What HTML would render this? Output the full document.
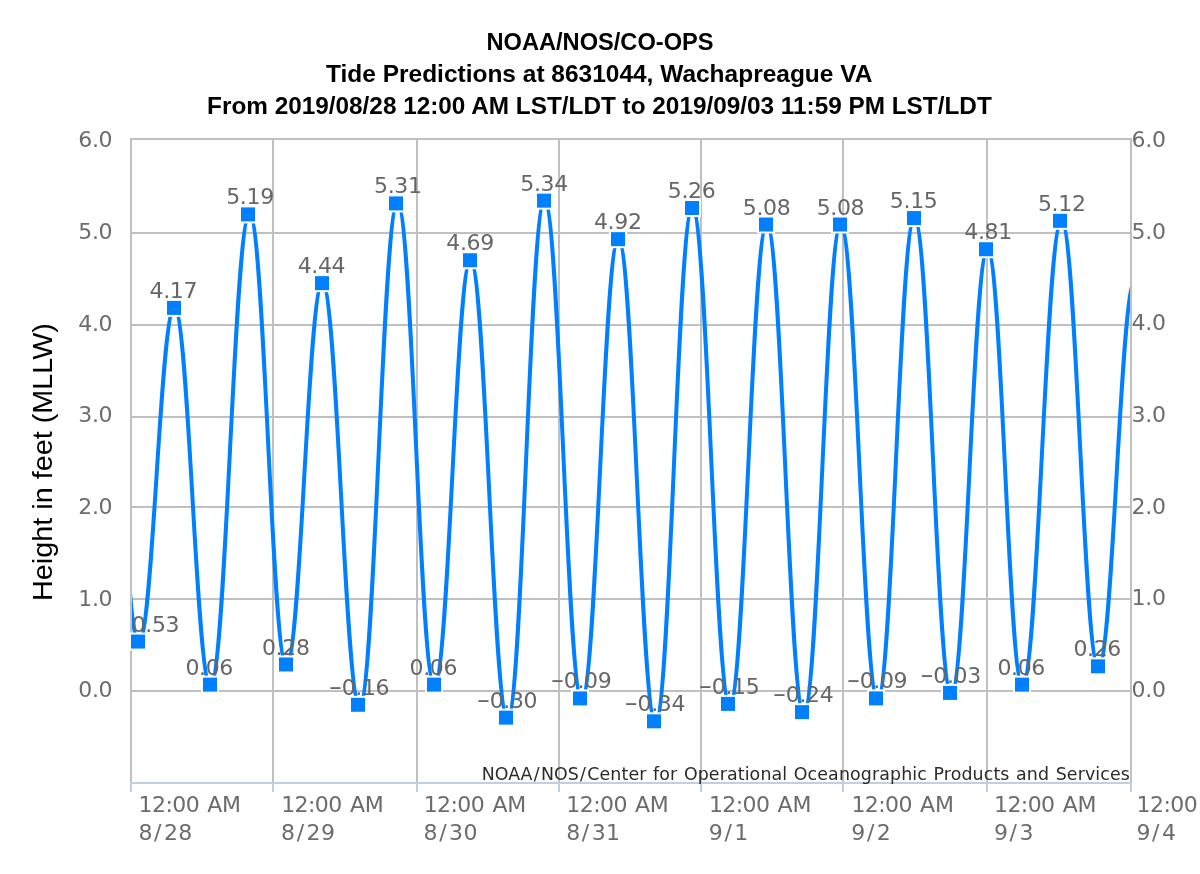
<!DOCTYPE html>
<html lang="en"><head><meta charset="utf-8"><title>Tide Predictions at 8631044, Wachapreague VA</title>
<style>html,body{margin:0;padding:0;background:#fff}body{width:1200px;height:874px;overflow:hidden}svg{display:block;will-change:transform}
.ax{font-family:"DejaVu Sans","Liberation Sans",sans-serif;font-size:22px;fill:#6c6c6c}.dl{font-family:"DejaVu Sans","Liberation Sans",sans-serif;font-size:22px;fill:#666}
.ti{font-family:"Liberation Sans",Arial,sans-serif;font-weight:bold;font-size:24px;fill:#000}
.yt{font-family:"Liberation Sans",Arial,sans-serif;font-size:28px;fill:#000}
.cr{font-family:"DejaVu Sans","Liberation Sans",sans-serif;font-size:17.4px;fill:#2a2a2a}
</style></head><body>
<svg width="1200" height="874" viewBox="0 0 1200 874">
<rect width="1200" height="874" fill="#fff"/>
<defs><clipPath id="pc"><rect x="132" y="139" width="998" height="643"/></clipPath></defs>
<g stroke="#c0c0c0" stroke-width="2" fill="none"><path d="M273 139V782"/><path d="M417 139V782"/><path d="M559 139V782"/><path d="M701 139V782"/><path d="M843 139V782"/><path d="M987 139V782"/><path d="M131 233H1131"/><path d="M131 325H1131"/><path d="M131 417H1131"/><path d="M131 507H1131"/><path d="M131 599H1131"/><path d="M131 691H1131"/></g>
<path d="M131 783V139H1131V783" fill="none" stroke="#c0c0c0" stroke-width="2"/>
<g stroke="#c0d0e0" stroke-width="2" fill="none"><path d="M130 783H1132"/><path d="M131 783V792"/><path d="M273 783V792"/><path d="M417 783V792"/><path d="M559 783V792"/><path d="M701 783V792"/><path d="M843 783V792"/><path d="M987 783V792"/><path d="M1131 783V792"/></g>
<g class="ti" text-anchor="middle"><text transform="translate(600 49.5) scale(0.985 1)">NOAA/NOS/CO-OPS</text><text transform="translate(599.2 81.5) scale(1.02 1)">Tide Predictions at 8631044, Wachapreague VA</text><text transform="translate(599.4 113.5) scale(1.0145 1)">From 2019/08/28 12:00 AM LST/LDT to 2019/09/03 11:59 PM LST/LDT</text></g>
<text class="yt" text-anchor="middle" transform="translate(52 462) rotate(-90) scale(1.029 1)">Height in feet (MLLW)</text>
<g class="ax" letter-spacing="-0.35"><text x="112.2" y="147.4" text-anchor="end">6.0</text><text x="1131.6" y="146.9">6.0</text><text x="112.2" y="239.1" text-anchor="end">5.0</text><text x="1131.6" y="238.6">5.0</text><text x="112.2" y="330.7" text-anchor="end">4.0</text><text x="1131.6" y="330.2">4.0</text><text x="112.2" y="422.4" text-anchor="end">3.0</text><text x="1131.6" y="421.9">3.0</text><text x="112.2" y="514.0" text-anchor="end">2.0</text><text x="1131.6" y="513.5">2.0</text><text x="112.2" y="605.6" text-anchor="end">1.0</text><text x="1131.6" y="605.1">1.0</text><text x="112.2" y="697.3" text-anchor="end">0.0</text><text x="1131.6" y="696.8">0.0</text></g>
<g class="ax"><text><tspan x="138.6" y="812.3" letter-spacing="-0.58">12:00</tspan><tspan dx="1.5" letter-spacing="-0.28"> AM</tspan><tspan x="138.5" y="840">8</tspan><tspan dx="1.6">/</tspan><tspan dx="2.5" letter-spacing="0.3">28</tspan></text><text><tspan x="281.2" y="812.3" letter-spacing="-0.58">12:00</tspan><tspan dx="1.5" letter-spacing="-0.28"> AM</tspan><tspan x="281.1" y="840">8</tspan><tspan dx="1.6">/</tspan><tspan dx="2.5" letter-spacing="0.3">29</tspan></text><text><tspan x="423.7" y="812.3" letter-spacing="-0.58">12:00</tspan><tspan dx="1.5" letter-spacing="-0.28"> AM</tspan><tspan x="423.6" y="840">8</tspan><tspan dx="1.6">/</tspan><tspan dx="2.5" letter-spacing="0.3">30</tspan></text><text><tspan x="566.3" y="812.3" letter-spacing="-0.58">12:00</tspan><tspan dx="1.5" letter-spacing="-0.28"> AM</tspan><tspan x="566.2" y="840">8</tspan><tspan dx="1.6">/</tspan><tspan dx="2.5" letter-spacing="0.3">31</tspan></text><text><tspan x="708.9" y="812.3" letter-spacing="-0.58">12:00</tspan><tspan dx="1.5" letter-spacing="-0.28"> AM</tspan><tspan x="708.8" y="840">9</tspan><tspan dx="1.6">/</tspan><tspan dx="2.5" letter-spacing="0.3">1</tspan></text><text><tspan x="851.4" y="812.3" letter-spacing="-0.58">12:00</tspan><tspan dx="1.5" letter-spacing="-0.28"> AM</tspan><tspan x="851.3" y="840">9</tspan><tspan dx="1.6">/</tspan><tspan dx="2.5" letter-spacing="0.3">2</tspan></text><text><tspan x="994.0" y="812.3" letter-spacing="-0.58">12:00</tspan><tspan dx="1.5" letter-spacing="-0.28"> AM</tspan><tspan x="993.9" y="840">9</tspan><tspan dx="1.6">/</tspan><tspan dx="2.5" letter-spacing="0.3">3</tspan></text><text><tspan x="1136.6" y="812.3" letter-spacing="-0.58">12:00</tspan><tspan dx="1.5" letter-spacing="-0.28"> AM</tspan><tspan x="1136.5" y="840">9</tspan><tspan dx="1.6">/</tspan><tspan dx="2.5" letter-spacing="0.3">4</tspan></text></g>
<path clip-path="url(#pc)" d="M100.00 212.00 C115.52 212.00 123.28 641.96 138.80 641.96 C153.04 641.96 160.16 308.30 174.40 308.30 C188.80 308.30 196.00 685.04 210.40 685.04 C226.08 685.04 233.92 214.80 249.60 214.80 C264.32 214.80 271.68 664.87 286.40 664.87 C300.80 664.87 308.00 283.55 322.40 283.55 C337.30 283.55 344.75 705.21 359.65 705.21 C374.82 705.21 382.40 203.80 397.57 203.80 C412.30 203.80 419.67 685.04 434.40 685.04 C448.86 685.04 456.09 260.64 470.55 260.64 C485.39 260.64 492.81 718.04 507.65 718.04 C522.40 718.04 529.77 201.05 544.52 201.05 C559.43 201.05 566.89 698.79 581.80 698.79 C596.44 698.79 603.76 239.55 618.40 239.55 C633.24 239.55 640.66 721.71 655.50 721.71 C670.26 721.71 677.64 208.39 692.40 208.39 C707.36 208.39 714.84 704.29 729.80 704.29 C744.62 704.29 752.03 224.89 766.85 224.89 C781.63 224.89 789.02 712.54 803.80 712.54 C818.59 712.54 825.98 224.89 840.77 224.89 C855.52 224.89 862.90 698.79 877.65 698.79 C892.35 698.79 899.70 218.47 914.40 218.47 C929.16 218.47 936.54 693.29 951.30 693.29 C965.82 693.29 973.08 249.64 987.60 249.64 C1001.52 249.64 1008.48 685.04 1022.40 685.04 C1038.06 685.04 1045.88 221.22 1061.54 221.22 C1076.28 221.22 1083.66 666.71 1098.40 666.71 C1113.04 666.71 1120.36 280.40 1135.00 280.40" fill="none" stroke="#0080ff" stroke-width="4" stroke-linejoin="round" stroke-linecap="round"/>
<g fill="#0080ff" stroke="#fff" stroke-width="2"><rect x="130.00" y="633.56" width="16" height="16"/><rect x="166.00" y="299.90" width="16" height="16"/><rect x="202.00" y="676.64" width="16" height="16"/><rect x="240.00" y="206.40" width="16" height="16"/><rect x="278.00" y="656.47" width="16" height="16"/><rect x="314.00" y="275.15" width="16" height="16"/><rect x="350.00" y="696.81" width="16" height="16"/><rect x="388.00" y="195.40" width="16" height="16"/><rect x="426.00" y="676.64" width="16" height="16"/><rect x="462.00" y="252.24" width="16" height="16"/><rect x="498.00" y="709.64" width="16" height="16"/><rect x="536.00" y="192.65" width="16" height="16"/><rect x="572.00" y="690.39" width="16" height="16"/><rect x="610.00" y="231.15" width="16" height="16"/><rect x="646.00" y="713.31" width="16" height="16"/><rect x="684.00" y="199.99" width="16" height="16"/><rect x="720.00" y="695.89" width="16" height="16"/><rect x="758.00" y="216.49" width="16" height="16"/><rect x="794.00" y="704.14" width="16" height="16"/><rect x="832.00" y="216.49" width="16" height="16"/><rect x="868.00" y="690.39" width="16" height="16"/><rect x="906.00" y="210.07" width="16" height="16"/><rect x="942.00" y="684.89" width="16" height="16"/><rect x="978.00" y="241.24" width="16" height="16"/><rect x="1014.00" y="676.64" width="16" height="16"/><rect x="1052.00" y="212.82" width="16" height="16"/><rect x="1090.00" y="658.31" width="16" height="16"/></g>
<g class="dl" text-anchor="middle" letter-spacing="-0.35"><text x="131.7" y="632.4" text-anchor="start">0.53</text><text x="173.35" y="297.9">4.17</text><text x="209.20" y="674.6">0.06</text><text x="250.03" y="204.4">5.19</text><text x="285.75" y="654.5">0.28</text><text x="321.45" y="273.2">4.44</text><text transform="translate(328.65 694.8) scale(0.73 1)" text-anchor="start">−</text><text x="341.65" y="694.8" text-anchor="start">0.16</text><text x="397.80" y="193.4">5.31</text><text x="433.33" y="674.6">0.06</text><text x="470.10" y="250.2">4.69</text><text transform="translate(476.65 707.6) scale(0.73 1)" text-anchor="start">−</text><text x="489.65" y="707.6" text-anchor="start">0.30</text><text x="544.05" y="190.7">5.34</text><text transform="translate(550.80 688.4) scale(0.73 1)" text-anchor="start">−</text><text x="563.80" y="688.4" text-anchor="start">0.09</text><text x="617.75" y="229.2">4.92</text><text transform="translate(624.50 711.3) scale(0.73 1)" text-anchor="start">−</text><text x="637.50" y="711.3" text-anchor="start">0.34</text><text x="691.55" y="198.0">5.26</text><text transform="translate(698.80 693.9) scale(0.73 1)" text-anchor="start">−</text><text x="711.80" y="693.9" text-anchor="start">0.15</text><text x="766.60" y="214.5">5.08</text><text transform="translate(772.80 702.1) scale(0.73 1)" text-anchor="start">−</text><text x="785.80" y="702.1" text-anchor="start">0.24</text><text x="840.47" y="214.5">5.08</text><text transform="translate(846.65 688.4) scale(0.73 1)" text-anchor="start">−</text><text x="859.65" y="688.4" text-anchor="start">0.09</text><text x="913.65" y="208.1">5.15</text><text transform="translate(920.30 682.9) scale(0.73 1)" text-anchor="start">−</text><text x="933.30" y="682.9" text-anchor="start">0.03</text><text x="988.05" y="239.2">4.81</text><text x="1021.23" y="674.6">0.06</text><text x="1061.75" y="210.8">5.12</text><text x="1097.19" y="656.3">0.26</text></g>
<text class="cr" x="1130" y="780" text-anchor="end">NOAA<tspan dx="1.4">/</tspan><tspan dx="1.3">NOS</tspan><tspan dx="1.4">/</tspan><tspan dx="1.3" letter-spacing="0.12" word-spacing="0.9">Center for Operational Oceanographic Products and Services</tspan></text>
</svg></body></html>
